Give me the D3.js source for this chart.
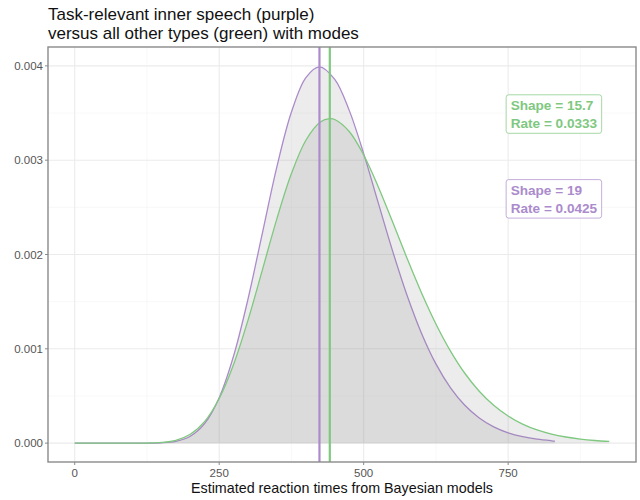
<!DOCTYPE html>
<html><head><meta charset="utf-8">
<script src="https://cdn.jsdelivr.net/npm/d3@7"></script>
<style>body{margin:0;background:#fff}svg{display:block;font-family:"Liberation Sans",Arial,sans-serif}</style>
</head><body><svg id="c" width="640" height="500"></svg>
<script>
const titleLines = ["Task-relevant inner speech (purple)", "versus all other types (green) with modes"];
const xLabel = "Estimated reaction times from Bayesian models";
const xTicks = [0, 250, 500, 750];
const yTicks = [0, 0.001, 0.002, 0.003, 0.004];
const yTickLabels = ["0.000", "0.001", "0.002", "0.003", "0.004"];

// purple series (task-relevant inner speech)
const purpleX = [0,25,50,75,100,125,150,175,200,225,250,275,300,325,350,375,400,423.5,450,475,500,525,550,575,600,625,650,675,700,725,750,775,800,825,831];
const purpleY = [0,0,0,0,0.00000002,0.00000037,0.0000034,0.000019,0.0000727,0.000209,0.000482,0.000926,0.001532,0.002235,0.002935,0.00351,0.003876,0.00399,0.003857,0.003528,0.00307,0.002552,0.002038,0.001568,0.001166,0.00084,0.000589,0.000401,0.000267,0.000173,0.00011,0.000069,0.000042,0.000025,0.000022];
// green series (all other types)
const greenX = [0,25,50,75,100,125,150,175,200,225,250,275,300,325,350,375,400,425,441.4,450,475,500,525,550,575,600,625,650,675,700,725,750,775,800,825,850,875,900,925];
const greenY = [0,0,0,0,0.0000001,0.0000011,0.0000073,0.0000304,0.0000942,0.000231,0.000473,0.000836,0.001307,0.001843,0.002383,0.002858,0.003211,0.003405,0.00344,0.003431,0.003304,0.003055,0.002722,0.002346,0.001961,0.001595,0.001264,0.000979,0.000741,0.00055,0.000401,0.000287,0.000202,0.00014,0.000096,0.000065,0.000043,0.000028,0.000018];
const modes = [423.5, 441.4];
const labelTexts = [["Shape = 15.7", "Rate = 0.0333"], ["Shape = 19", "Rate = 0.0425"]];
const labelX = [750, 750];
const labelY = [0.003489, 0.00259];

const purple = "#ab8bcc", green = "#7fc87f";
const svg = d3.select("#c");
const L = 48, R = 636, T = 47, B = 462;
const x = d3.scaleLinear().domain([-46.25, 971.25]).range([L, R]);
const y = d3.scaleLinear().domain([-0.0002, 0.0042]).range([B, T]);

// background grid
const g = svg.append("g");
const minorX = [125, 375, 625, 875], minorY = [0.0005, 0.0015, 0.0025, 0.0035];
g.selectAll(".mx").data(minorX).join("line").attr("x1", d => x(d)).attr("x2", d => x(d)).attr("y1", T).attr("y2", B).attr("stroke", "#f4f4f4").attr("stroke-width", 0.6);
g.selectAll(".my").data(minorY).join("line").attr("y1", d => y(d)).attr("y2", d => y(d)).attr("x1", L).attr("x2", R).attr("stroke", "#f4f4f4").attr("stroke-width", 0.6);
g.selectAll(".Mx").data(xTicks).join("line").attr("x1", d => x(d)).attr("x2", d => x(d)).attr("y1", T).attr("y2", B).attr("stroke", "#ebebeb").attr("stroke-width", 1.1);
g.selectAll(".My").data(yTicks).join("line").attr("y1", d => y(d)).attr("y2", d => y(d)).attr("x1", L).attr("x2", R).attr("stroke", "#ebebeb").attr("stroke-width", 1.1);

const area = d3.area().x(d => x(d[0])).y0(y(0)).y1(d => y(d[1])).curve(d3.curveCatmullRom);
const line = d3.line().x(d => x(d[0])).y(d => y(d[1])).curve(d3.curveCatmullRom);
const pData = purpleX.map((v, i) => [v, purpleY[i]]);
const gData = greenX.map((v, i) => [v, greenY[i]]);

svg.append("path").attr("d", area(pData)).attr("fill", "#7f7f7f").attr("fill-opacity", 0.15);
svg.append("path").attr("d", line(pData)).attr("fill", "none").attr("stroke", purple).attr("stroke-width", 1.3);
svg.append("path").attr("d", area(gData)).attr("fill", "#7f7f7f").attr("fill-opacity", 0.15);
svg.append("path").attr("d", line(gData)).attr("fill", "none").attr("stroke", green).attr("stroke-width", 1.3);

svg.append("line").attr("x1", x(modes[0])).attr("x2", x(modes[0])).attr("y1", T).attr("y2", B).attr("stroke", purple).attr("stroke-width", 2.2);
svg.append("line").attr("x1", x(modes[1])).attr("x2", x(modes[1])).attr("y1", T).attr("y2", B).attr("stroke", green).attr("stroke-width", 2.2);

// labels
const lcol = [green, purple];
labelTexts.forEach((lines, i) => {
  const lx = x(labelX[i]) - 2, cy = y(labelY[i]);
  const grp = svg.append("g");
  const w = 95.5, h = 38.5;
  grp.append("rect").attr("x", lx).attr("y", cy - h / 2).attr("width", w).attr("height", h).attr("rx", 2.5)
    .attr("fill", "#fff").attr("stroke", lcol[i]).attr("stroke-opacity", 0.7).attr("stroke-width", 1);
  lines.forEach((t, j) => {
    grp.append("text").attr("x", lx + 4.5).attr("y", cy - h / 2 + 15.2 + j * 18.4).text(t)
      .attr("fill", lcol[i]).attr("font-size", 13.6).attr("font-weight", "bold");
  });
});

// border
svg.append("rect").attr("x", L).attr("y", T).attr("width", R - L).attr("height", B - T).attr("fill", "none").attr("stroke", "#8a8a8a").attr("stroke-width", 1.4);

// axes
svg.selectAll(".xt").data(xTicks).join("line").attr("x1", d => x(d)).attr("x2", d => x(d)).attr("y1", B).attr("y2", B + 3).attr("stroke", "#8a8a8a");
svg.selectAll(".yt").data(yTicks).join("line").attr("y1", d => y(d)).attr("y2", d => y(d)).attr("x1", L - 3).attr("x2", L).attr("stroke", "#8a8a8a");
svg.selectAll(".xl").data(xTicks).join("text").attr("x", d => x(d)).attr("y", B + 15).attr("text-anchor", "middle").attr("font-size", 11.5).attr("fill", "#555").text(d => d);
svg.selectAll(".yl").data(yTicks).join("text").attr("x", L - 5).attr("y", d => y(d) + 4).attr("text-anchor", "end").attr("font-size", 11.5).attr("fill", "#555").text((d, i) => yTickLabels[i]);
svg.append("text").attr("x", (L + R) / 2).attr("y", 493).attr("text-anchor", "middle").attr("font-size", 14.3).attr("fill", "#111").text(xLabel);
titleLines.forEach((t, i) => svg.append("text").attr("x", 48).attr("y", 19.5 + i * 19.5).attr("font-size", 17).attr("fill", "#111").text(t));
</script></body></html>
